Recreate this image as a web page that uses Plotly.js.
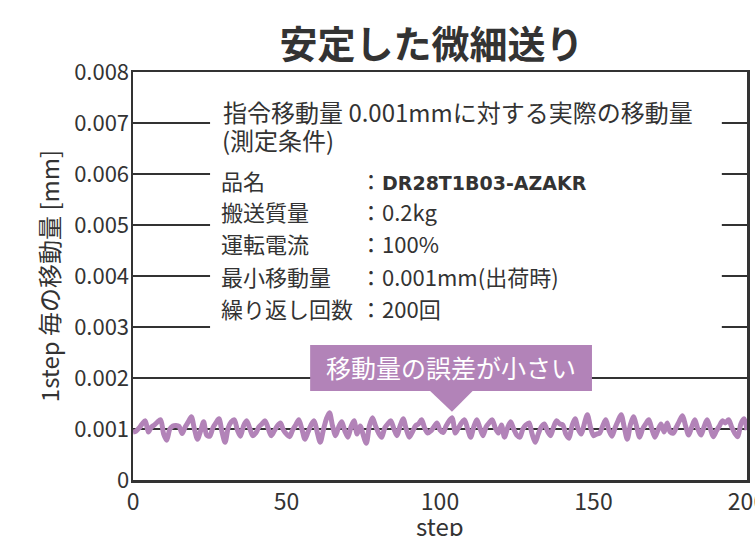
<!DOCTYPE html>
<html>
<head>
<meta charset="utf-8">
<script src="https://cdn.plot.ly/plotly-3.0.1.min.js"></script>
<style>html,body{margin:0;padding:0;background:#fff;}#chart{width:755px;height:536px;}</style>
</head>
<body>
<div id="chart"></div>
<script>
// ---- data (mm per step) ----
const moveValues = [
  0.00094,0.00096,0.00102,0.00110,0.00116,0.00094,0.00104,0.00108,0.00114,0.00118,
  0.00090,0.00078,0.00100,0.00106,0.00107,0.00105,0.00091,0.00104,0.00114,0.00124,
  0.00100,0.00080,0.00096,0.00114,0.00088,0.00086,0.00102,0.00112,0.00120,0.00094,
  0.00074,0.00102,0.00114,0.00118,0.00098,0.00086,0.00106,0.00116,0.00102,0.00087,
  0.00092,0.00104,0.00110,0.00116,0.00102,0.00087,0.00096,0.00106,0.00112,0.00098,
  0.00090,0.00085,0.00098,0.00108,0.00118,0.00100,0.00080,0.00094,0.00108,0.00116,
  0.00094,0.00074,0.00098,0.00120,0.00132,0.00106,0.00087,0.00104,0.00114,0.00096,
  0.00084,0.00104,0.00116,0.00090,0.00106,0.00088,0.00072,0.00106,0.00122,0.00106,
  0.00092,0.00084,0.00102,0.00110,0.00116,0.00100,0.00087,0.00106,0.00120,0.00100,
  0.00084,0.00094,0.00106,0.00110,0.00118,0.00102,0.00092,0.00096,0.00104,0.00112,
  0.00098,0.00093,0.00106,0.00116,0.00122,0.00092,0.00102,0.00112,0.00118,0.00100,
  0.00084,0.00104,0.00118,0.00102,0.00087,0.00104,0.00112,0.00118,0.00102,0.00092,
  0.00108,0.00084,0.00102,0.00114,0.00100,0.00088,0.00084,0.00100,0.00108,0.00112,
  0.00090,0.00074,0.00090,0.00104,0.00110,0.00096,0.00087,0.00104,0.00116,0.00110,
  0.00108,0.00090,0.00082,0.00106,0.00120,0.00100,0.00090,0.00110,0.00128,0.00104,
  0.00087,0.00090,0.00092,0.00106,0.00118,0.00098,0.00086,0.00102,0.00116,0.00128,
  0.00104,0.00080,0.00108,0.00124,0.00106,0.00084,0.00100,0.00110,0.00118,0.00100,
  0.00084,0.00098,0.00110,0.00094,0.00112,0.00094,0.00092,0.00104,0.00116,0.00126,
  0.00106,0.00088,0.00104,0.00118,0.00100,0.00088,0.00104,0.00118,0.00102,0.00085,
  0.00096,0.00106,0.00116,0.00112,0.00118,0.00104,0.00092,0.00085,0.00110,0.00120,
  0.00098
];
const steps = moveValues.map((_, i) => i);

const xTickVals = [0, 50, 100, 150, 200];
const xTickText = ['0', '50', '100', '150', '200'];
const yTickVals = [0, 0.001, 0.002, 0.003, 0.004, 0.005, 0.006, 0.007, 0.008];
const yTickText = ['0', '0.001', '0.002', '0.003', '0.004', '0.005', '0.006', '0.007', '0.008'];

const chartTitle = '安定した微細送り';
const xTitle = 'step';
const yTitle = '1step 毎の移動量 [mm]';
const headerLine1 = '指令移動量 0.001mmに対する実際の移動量';
const headerLine2 = '(測定条件)';
const condLabels = ['品名', '搬送質量', '運転電流', '最小移動量', '繰り返し回数'];
const condValues = ['：<b><span style="font-family:\'DejaVu Sans\';font-size:19px">DR28T1B03-AZAKR</span></b>', '：0.2kg', '：100%', '：0.001mm(出荷時)', '：200回'];
const calloutText = '移動量の誤差が小さい';

// ---- styling / layout ----
const FONT = '"Noto Sans CJK JP", "Noto Sans", sans-serif';
const INK = '#333333';
const PURPLE = '#b283b8';

const rowY = [0.005885, 0.005275, 0.004650, 0.004005, 0.003375];
const annotations = [
  {x: 28.6, y: 0.007216, xref: 'x', yref: 'y', xanchor: 'left', yanchor: 'middle', showarrow: false,
   text: headerLine1, font: {family: FONT, size: 24, color: INK}},
  {x: 28.3, y: 0.006680, xref: 'x', yref: 'y', xanchor: 'left', yanchor: 'middle', showarrow: false,
   text: headerLine2, font: {family: FONT, size: 24, color: INK}}
];
condLabels.forEach((lab, i) => {
  annotations.push({x: 27.9, y: rowY[i], xref: 'x', yref: 'y', xanchor: 'left', yanchor: 'middle', showarrow: false,
    text: lab, font: {family: FONT, size: 22, color: INK}});
  annotations.push({x: 73.4, y: rowY[i], xref: 'x', yref: 'y', xanchor: 'left', yanchor: 'middle', showarrow: false,
    text: condValues[i], font: {family: FONT, size: 22, color: INK}});
});
annotations.push({x: 103.6, y: 0.00221, xref: 'x', yref: 'y', xanchor: 'center', yanchor: 'middle', showarrow: false,
  text: calloutText, font: {family: FONT, size: 25, color: '#ffffff'}});
// x-axis title, placed below the tick labels (partly cut by the bottom edge as in the original)
annotations.push({x: 0.5, y: -0.111, xref: 'paper', yref: 'paper', xanchor: 'center', yanchor: 'middle', showarrow: false,
  text: xTitle, font: {family: FONT, size: 24, color: INK}});

const shapes = [
  {type: 'rect', xref: 'x', yref: 'y', x0: 25.1, x1: 191.8, y0: 0.00272, y1: 0.0079,
   fillcolor: '#ffffff', line: {width: 0}, layer: 'between'},
  {type: 'rect', xref: 'x', yref: 'y', x0: 57.7, x1: 149.5, y0: 0.001745, y1: 0.002647,
   fillcolor: PURPLE, line: {width: 0}, layer: 'between'},
  {type: 'path', xref: 'x', yref: 'y', path: 'M 96.7,0.00175 L 110.7,0.00175 L 103.9,0.00134 Z',
   fillcolor: PURPLE, line: {width: 0}, layer: 'between'}
];

const trace = {
  x: steps, y: moveValues, type: 'scatter', mode: 'lines',
  line: {color: PURPLE, width: 5, shape: 'spline', smoothing: 0.8}, hoverinfo: 'skip', showlegend: false
};

const layout = {
  width: 755, height: 536,
  margin: {l: 133, r: 8, t: 72, b: 56, pad: 0},
  paper_bgcolor: '#ffffff', plot_bgcolor: '#ffffff',
  font: {family: FONT, color: INK},
  title: {text: '<b>' + chartTitle + '</b>', x: 0.5715, xref: 'container', xanchor: 'center',
          y: 0.916, yref: 'container', yanchor: 'middle',
          font: {family: FONT, size: 38, color: INK, weight: 'bold'}},
  xaxis: {range: [0, 200], tickvals: xTickVals, ticktext: xTickText, showgrid: false, zeroline: false,
          showline: true, linecolor: INK, linewidth: 2.5, mirror: true, ticks: '',
          ticklabeloverflow: 'allow',
          tickfont: {family: FONT, size: 23, color: INK}, fixedrange: true},
  yaxis: {range: [0, 0.008], tickvals: yTickVals, ticktext: yTickText, showgrid: true, gridcolor: INK,
          gridwidth: 2, zeroline: false, showline: true, linecolor: INK, linewidth: 2.5, mirror: true,
          ticks: '', ticklabelstandoff: -3, tickfont: {family: FONT, size: 22, color: INK}, fixedrange: true,
          title: {text: yTitle, font: {family: FONT, size: 24, color: INK}, standoff: 8}},
  shapes: shapes,
  annotations: annotations
};

Plotly.newPlot('chart', [trace], layout, {displayModeBar: false, staticPlot: true});
</script>
</body>
</html>
